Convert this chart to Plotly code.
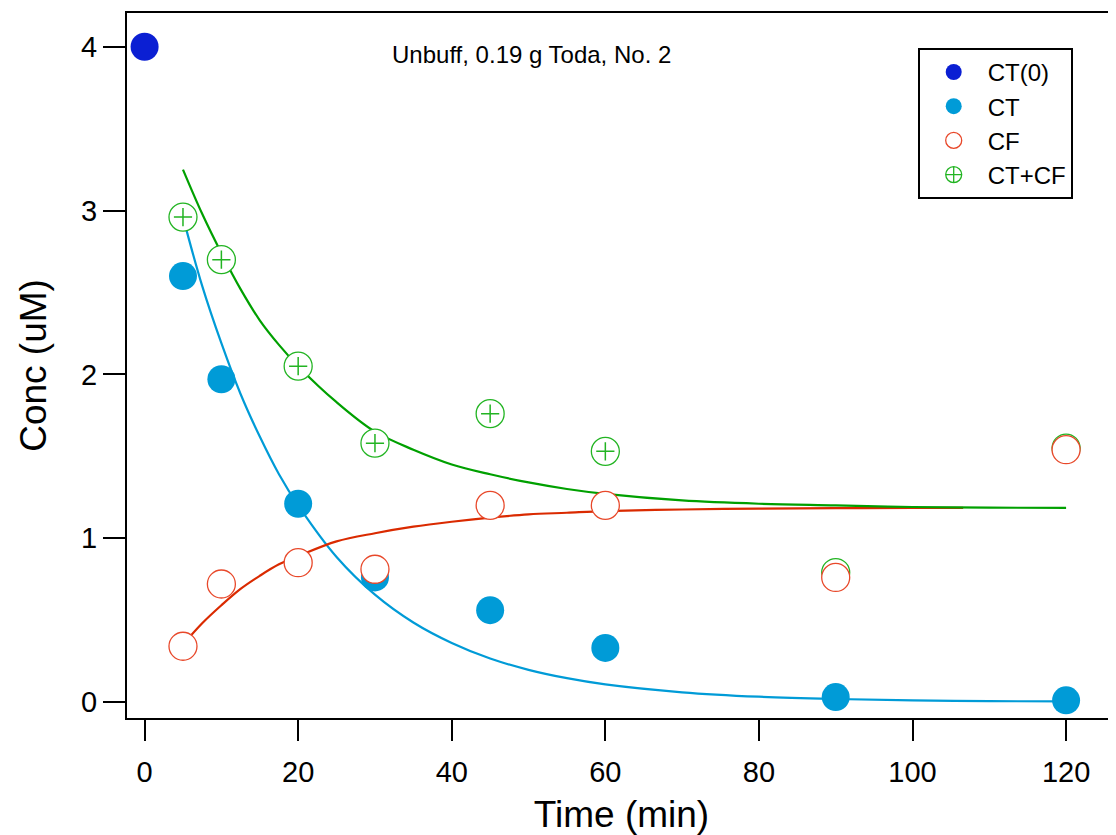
import plotly.graph_objects as go

# Measured data
t0 = [0]
ct0 = [4.0]

t_pts = [5, 10, 20, 30, 45, 60, 90, 120]
ct_vals = [2.60, 1.97, 1.21, 0.76, 0.56, 0.33, 0.03, 0.01]
cf_vals = [0.34, 0.72, 0.85, 0.81, 1.20, 1.20, 0.76, 1.54]
ctcf_vals = [2.96, 2.70, 2.05, 1.58, 1.76, 1.53, 0.79, 1.55]

# Fitted curves
fit_t = [5, 7.5, 10, 12.5, 15, 17.5, 20, 25, 30, 35, 40, 45, 50, 55, 60, 70, 80, 90, 100, 110, 120]
fit_ct = [2.96, 2.54, 2.19, 1.88, 1.62, 1.39, 1.20, 0.885, 0.655, 0.485, 0.36, 0.265, 0.196,
          0.145, 0.107, 0.059, 0.032, 0.018, 0.010, 0.005, 0.003]
fit_ctcf = [3.25, 2.98, 2.74, 2.52, 2.33, 2.18, 2.05, 1.83, 1.65, 1.54, 1.45, 1.39, 1.34,
            1.30, 1.27, 1.23, 1.21, 1.20, 1.19, 1.186, 1.185]
fit_cf_t = [5, 7.5, 10, 12.5, 15, 17.5, 20, 25, 30, 35, 40, 45, 50, 55, 60, 70, 80, 90, 100, 106.6]
fit_cf = [0.35, 0.48, 0.59, 0.69, 0.77, 0.84, 0.89, 0.98, 1.03, 1.07, 1.10, 1.125, 1.145,
          1.155, 1.165, 1.175, 1.18, 1.183, 1.184, 1.185]

x_ticks = [0, 20, 40, 60, 80, 100, 120]
y_ticks = [0, 1, 2, 3, 4]

C_CT0 = "#0B1FD3"
C_CT = "#009BD7"
C_CF_M = "#E8482A"
C_CF_L = "#DA2A00"
C_G_M = "#22B422"
C_G_L = "#00A000"

fig = go.Figure()

fig.add_trace(go.Scatter(x=fit_t, y=fit_ct, mode="lines",
                         line=dict(color=C_CT, width=2.2, shape="spline", smoothing=1.0),
                         showlegend=False, hoverinfo="skip"))
fig.add_trace(go.Scatter(x=fit_cf_t, y=fit_cf, mode="lines",
                         line=dict(color=C_CF_L, width=2.2, shape="spline", smoothing=1.0),
                         showlegend=False, hoverinfo="skip"))
fig.add_trace(go.Scatter(x=fit_t, y=fit_ctcf, mode="lines",
                         line=dict(color=C_G_L, width=2.2, shape="spline", smoothing=1.0),
                         showlegend=False, hoverinfo="skip"))

# CT+CF: white-filled circle with a small plus inside
fig.add_trace(go.Scatter(x=t_pts, y=ctcf_vals, mode="markers", name="CT+CF",
                         showlegend=False, legendgroup="ctcf",
                         marker=dict(symbol="circle", size=28, color="white",
                                     line=dict(color=C_G_M, width=1.3))))
fig.add_trace(go.Scatter(x=t_pts, y=ctcf_vals, mode="markers", name="CT+CF",
                         showlegend=False, legendgroup="ctcf", hoverinfo="skip",
                         marker=dict(symbol="cross-thin", size=13, color=C_G_M,
                                     line=dict(color=C_G_M, width=1.5))))
fig.add_trace(go.Scatter(x=t_pts, y=ct_vals, mode="markers", name="CT", legendrank=2,
                         marker=dict(symbol="circle", size=28, color=C_CT,
                                     line=dict(width=0))))
fig.add_trace(go.Scatter(x=t_pts, y=cf_vals, mode="markers", name="CF", legendrank=3,
                         marker=dict(symbol="circle", size=28, color="white",
                                     line=dict(color=C_CF_M, width=1.3))))
fig.add_trace(go.Scatter(x=t0, y=ct0, mode="markers", name="CT(0)", legendrank=1,
                         marker=dict(symbol="circle", size=28, color=C_CT0,
                                     line=dict(width=0))))
# legend entry for CT+CF
fig.add_trace(go.Scatter(x=[None], y=[None], mode="markers", name="CT+CF", legendrank=4,
                         legendgroup="ctcf",
                         marker=dict(symbol="circle-cross", size=28, color="white",
                                     line=dict(color=C_G_M, width=1.3))))

font_family = "Liberation Sans, Arial, sans-serif"

# page body adds an 8px offset; compensate in size and margins
fig.update_layout(
    width=1108, height=827,
    margin=dict(l=119, r=0, t=5, b=117),
    plot_bgcolor="white", paper_bgcolor="white",
    font=dict(family=font_family, color="black"),
    showlegend=True,
    legend=dict(x=0.7995, y=0.9505, xanchor="left", yanchor="top",
                bordercolor="black", borderwidth=2, bgcolor="white",
                font=dict(size=24, family=font_family), itemsizing="trace",
                itemwidth=58, tracegroupgap=0, entrywidth=100),
    xaxis=dict(range=[-2.29, 126.5], tickvals=x_ticks, ticks="outside", ticklen=21,
               tickwidth=2, tickcolor="black", showline=True, linewidth=2, linecolor="black",
               mirror=True, showgrid=False, zeroline=False, automargin=False,
               ticklabelstandoff=6,
               tickfont=dict(size=29, family=font_family),
               title=dict(text="Time (min)", font=dict(size=37, family=font_family), standoff=14)),
    yaxis=dict(range=[-0.098, 4.206], tickvals=y_ticks, ticks="outside", ticklen=22,
               tickwidth=2, tickcolor="black", showline=True, linewidth=2, linecolor="black",
               mirror=False, showgrid=False, zeroline=False, automargin=False,
               tickfont=dict(size=29, family=font_family),
               title=dict(text="Conc (uM)", font=dict(size=37, family=font_family), standoff=23)),
    annotations=[dict(text="Unbuff, 0.19 g Toda, No. 2", xref="paper", yref="paper",
                      x=0.4085, y=0.9405, xanchor="center", yanchor="middle", showarrow=False,
                      font=dict(size=24, family=font_family, color="black"))],
)

fig.write_html("out.html")
